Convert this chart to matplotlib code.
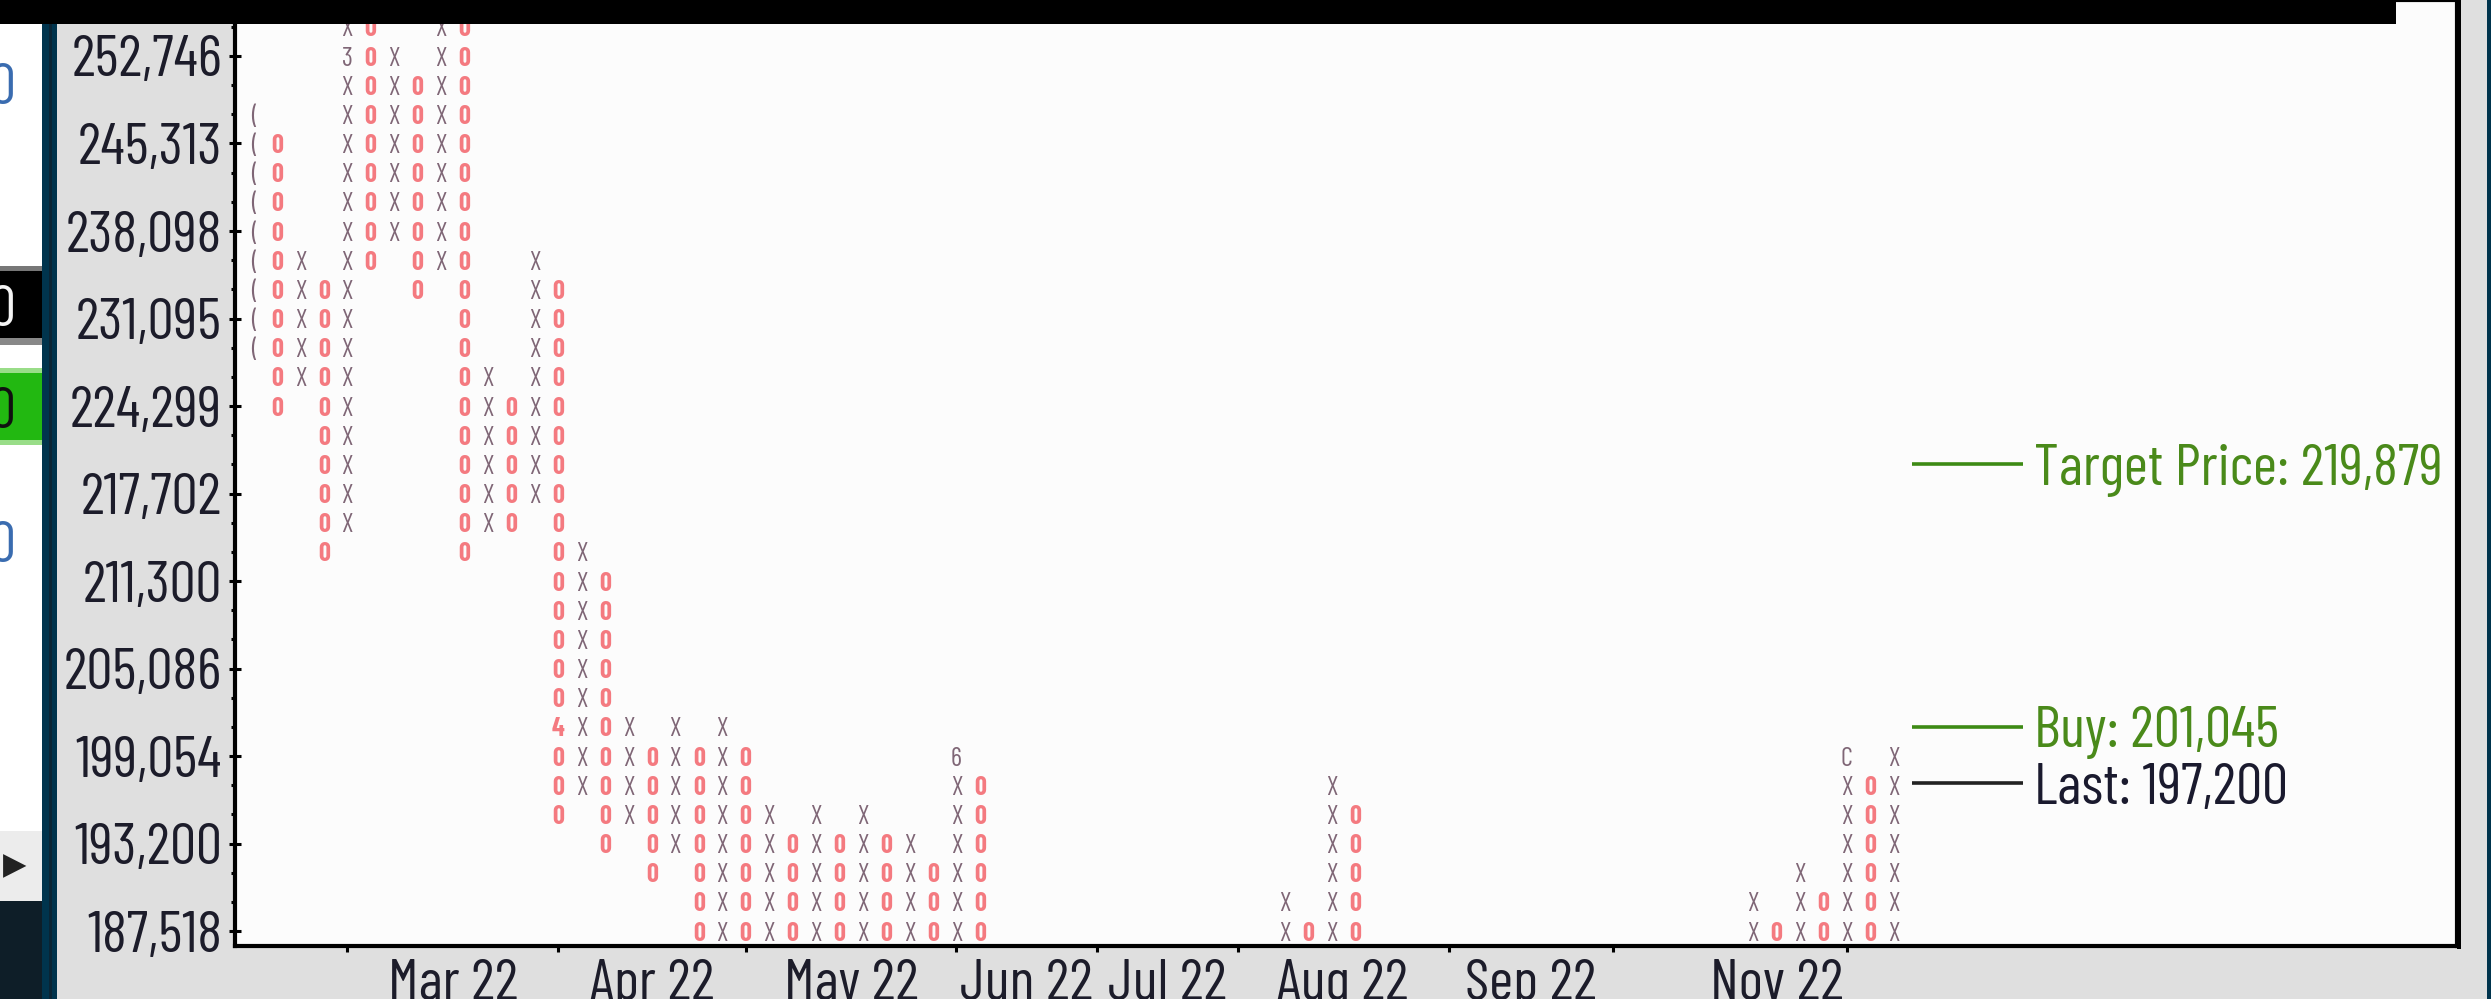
import matplotlib
matplotlib.use("Agg")
import matplotlib.pyplot as plt
import matplotlib.ticker as mticker
from matplotlib.patches import Rectangle

# point & figure settings
base_price = 187518
box_pct = 0.01

ytick_prices = [187518, 193200, 199054, 205086, 211300, 217702,
                224299, 231095, 238098, 245313, 252746]

# columns: position, kind, lowest box, highest box (box 0 = 187,518)
col_pos = [0, 1, 2, 3, 4, 5, 6, 7, 8, 9, 10, 11, 12, 13, 14, 15, 16, 17, 18, 19,
           20, 21, 22, 23, 24, 25, 26, 27, 28, 29, 30, 31,
           44, 45, 46, 47, 64, 65, 66, 67, 68, 69, 70]
col_kind = ['(', 'O', 'X', 'O', 'X', 'O', 'X', 'O', 'X', 'O', 'X', 'O', 'X', 'O', 'X', 'O', 'X', 'O', 'X', 'O',
            'X', 'O', 'X', 'O', 'X', 'O', 'X', 'O', 'X', 'O', 'X', 'O',
            'X', 'O', 'X', 'O', 'X', 'O', 'X', 'O', 'X', 'O', 'X']
col_low = [20, 18, 19, 13, 14, 23, 24, 22, 23, 13, 14, 14, 15, 4, 5, 3, 4, 2, 3, 0,
           0, 0, 0, 0, 0, 0, 0, 0, 0, 0, 0, 0,
           0, 0, 0, 0, 0, 0, 0, 0, 0, 0, 0]
col_high = [28, 27, 23, 22, 31, 31, 30, 29, 31, 31, 19, 18, 23, 22, 13, 12, 7, 6, 7, 6,
            7, 6, 4, 3, 4, 3, 4, 3, 3, 2, 6, 5,
            1, 0, 5, 4, 1, 0, 2, 1, 6, 5, 6]

# month markers written inside the columns
mark_col = [4, 13, 30, 68]
mark_box = [30, 7, 6, 6]
mark_char = ['3', '4', '6', 'C']

month_ticks = [4, 13, 21, 30, 36, 42, 51, 58, 68]
month_label_pos = [8.5, 17, 25.5, 33, 39, 46.5, 54.5, 65]
month_labels = ['Mar 22', 'Apr 22', 'May 22', 'Jun 22', 'Jul 22', 'Aug 22', 'Sep 22', 'Nov 22']

target_price = 219879
buy_price = 201045
last_price = 197200

W, H = 2491, 999
FONT = ['Barlow Condensed', 'DejaVu Sans']
fs = 42
x_col = '#7f6676'
o_col = '#f47a80'
green = '#4a8a1a'


def box_price(k):
    return base_price * (1 + box_pct) ** k


def fig_rect(x0, y0, x1, y1, color, z=10):
    # pixel box (top-left origin) -> figure rectangle
    fig.patches.append(Rectangle((x0 / W, 1 - y1 / H), (x1 - x0) / W, (y1 - y0) / H,
                                 transform=fig.transFigure, facecolor=color,
                                 edgecolor='none', zorder=z))


fig = plt.figure(figsize=(W / 100, H / 100), dpi=100, facecolor='#dfdfdf')
ax = fig.add_axes([235 / W, 53 / H, (2457 - 235) / W, 946 / H])
ax.set_facecolor('#fcfcfc')

# P&F columns (month markers replace the box they fall on)
marks = {(c, k): ch for c, k, ch in zip(mark_col, mark_box, mark_char)}
for c, kind, lo, hi in zip(col_pos, col_kind, col_low, col_high):
    for k in range(lo, hi + 1):
        ch = {'O': '0', 'X': 'X', '(': '('}[kind]
        ch = marks.get((c, k), ch)
        if kind == 'O':
            ax.text(c, box_price(k), ch, ha='center', va='center_baseline',
                    fontsize=19, color=o_col, family=FONT, fontweight='bold')
        else:
            ax.text(c, box_price(k), ch, ha='center', va='center_baseline',
                    fontsize=19, color=x_col, family=FONT)

# right-hand levels
ax.hlines([target_price, buy_price], 70.8, 75.5, color='#3d8a14', lw=2.6)
ax.hlines([last_price], 70.8, 75.5, color='#222222', lw=2.6)
ax.text(76.0, target_price, 'Target Price: 219,879', va='center_baseline',
        fontsize=fs, color=green, family=FONT)
ax.text(76.0, buy_price, 'Buy: 201,045', va='center_baseline',
        fontsize=fs, color=green, family=FONT)
ax.text(76.0, last_price, 'Last: 197,200', va='center_baseline',
        fontsize=fs, color='#1a1a2e', family=FONT)

# axes / scales
ax.set_yscale('log')
ax.set_ylim(box_price(-0.514), box_price(31.92))
ax.set_xlim(-0.79, 94.04)
ax.set_yticks(ytick_prices)
ax.set_yticklabels([f"{v:,}" for v in ytick_prices])
ax.yaxis.set_minor_locator(mticker.FixedLocator([box_price(k) for k in range(-1, 33)]))
ax.yaxis.set_minor_formatter(mticker.NullFormatter())
ax.tick_params(axis='y', which='major', direction='inout', length=8, width=2.2,
               pad=5.4, labelsize=fs, labelcolor='#1c1c2a')
ax.tick_params(axis='y', which='minor', direction='out', length=3, width=2.2)

ax.set_xticks(month_ticks)
ax.set_xticklabels([''] * len(month_ticks))
ax.set_xticks(month_label_pos, minor=True)
ax.set_xticklabels(month_labels, minor=True)
ax.tick_params(axis='x', which='major', direction='out', length=4.5, width=2.2)
ax.tick_params(axis='x', which='minor', length=0, pad=9, labelsize=fs,
               labelcolor='#1c1c2a')
for lab in ax.get_xticklabels(minor=True) + ax.get_yticklabels():
    lab.set_family(FONT)
for sp in ax.spines.values():
    sp.set_linewidth(3)
    sp.set_color('black')

# surrounding window pieces
fig_rect(0, 0, 2396, 24, 'black', 20)
fig_rect(0, 24, 42, 831, 'white')
fig_rect(0, 266, 42, 271, '#777777')
fig_rect(0, 271, 42, 338, 'black')
fig_rect(0, 338, 42, 345, '#888888')
fig_rect(0, 368, 42, 373, '#99dd88')
fig_rect(0, 373, 42, 440, '#22b811')
fig_rect(0, 440, 42, 445, '#99dd88')
fig_rect(0, 831, 42, 901, '#ececec')
fig_rect(0, 901, 42, 999, '#0e1e28')
fig_rect(42, 24, 57, 999, '#00344d')
fig_rect(49, 24, 52, 999, '#0a2535')
fig_rect(2487, 0, 2491, 999, '#00344d')
fig_rect(2457, 0, 2461, 949, 'black', 20)

for yy, col in [(83, '#3a6cb0'), (305, '#f4f4f4'), (407, '#101010'), (541, '#3a6cb0')]:
    fig.text(16 / W, 1 - yy / H, '0', ha='right', va='center_baseline',
             fontsize=fs, color=col, family=FONT, zorder=15)
fig.text(3 / W, 1 - 866 / H, '\u25B6', ha='left', va='center',
         fontsize=22, color='#222222', family=['DejaVu Sans'], zorder=15)

fig.savefig('out.png', dpi=100, facecolor=fig.get_facecolor())
